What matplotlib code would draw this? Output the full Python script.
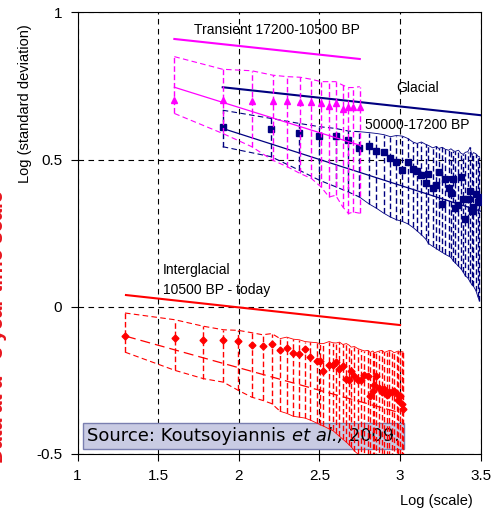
import numpy as np
import matplotlib
matplotlib.use("Agg")
import matplotlib.pyplot as plt
from matplotlib.offsetbox import TextArea, HPacker, AnnotationBbox

plt.rcParams['font.family'] = ['Liberation Sans', 'DejaVu Sans']

# Transient 17200-10500 BP (magenta)
mag_x = [1.60, 1.90, 2.08, 2.21, 2.30, 2.38, 2.45, 2.51, 2.56, 2.60, 2.645, 2.68, 2.71, 2.75]
mag_y = [0.702, 0.702, 0.700, 0.700, 0.699, 0.697, 0.695, 0.693, 0.682, 0.691, 0.671, 0.680, 0.678, 0.678]
mag_hi = [0.850, 0.807, 0.802, 0.787, 0.782, 0.780, 0.773, 0.765, 0.765, 0.765, 0.753, 0.745, 0.745, 0.748]
mag_lo = [0.657, 0.589, 0.544, 0.498, 0.476, 0.453, 0.436, 0.407, 0.373, 0.379, 0.339, 0.317, 0.322, 0.318]
mag_top_x, mag_top_y = [1.60, 2.75], [0.910, 0.842]
mag_mid_x, mag_mid_y = [1.60, 2.75], [0.746, 0.549]

# Glacial 50000-17200 BP (navy)
nav_x = [1.90, 2.20, 2.375, 2.50, 2.60, 2.68, 2.748, 2.806, 2.853, 2.899, 2.94, 2.977, 3.014,
         3.048, 3.079, 3.105, 3.132, 3.159, 3.176, 3.203, 3.225, 3.240, 3.261, 3.281, 3.302,
         3.315, 3.331, 3.341, 3.362, 3.377, 3.391, 3.405, 3.42, 3.434, 3.445, 3.455, 3.47,
         3.482, 3.492]
nav_y = [0.610, 0.603, 0.591, 0.580, 0.580, 0.566, 0.540, 0.546, 0.529, 0.526, 0.507, 0.492, 0.464,
         0.492, 0.467, 0.460, 0.447, 0.419, 0.450, 0.405, 0.414, 0.459, 0.349, 0.433, 0.405,
         0.385, 0.433, 0.335, 0.345, 0.440, 0.366, 0.297, 0.366, 0.394, 0.325, 0.340, 0.383,
         0.357, 0.374]
nav_hi = [0.668, 0.640, 0.623, 0.612, 0.606, 0.597, 0.595, 0.592, 0.589, 0.585, 0.578, 0.582, 0.580,
          0.572, 0.560, 0.555, 0.560, 0.552, 0.548, 0.540, 0.545, 0.538, 0.542, 0.535, 0.532,
          0.537, 0.530, 0.528, 0.532, 0.522, 0.518, 0.525, 0.527, 0.542, 0.515, 0.524, 0.520,
          0.512, 0.510]
nav_lo = [0.544, 0.510, 0.464, 0.430, 0.408, 0.390, 0.373, 0.350, 0.335, 0.318, 0.305, 0.296, 0.290,
          0.282, 0.270, 0.258, 0.245, 0.230, 0.215, 0.205, 0.198, 0.192, 0.185, 0.178, 0.172,
          0.168, 0.155, 0.150, 0.138, 0.130, 0.118, 0.105, 0.098, 0.085, 0.075, 0.070, 0.055,
          0.035, 0.020]
nav_top_x, nav_top_y = [1.90, 3.50], [0.746, 0.651]
nav_mid_x, nav_mid_y = [1.90, 3.50], [0.606, 0.325]

# Interglacial 10500 BP - today (red)
red_x = [1.294, 1.604, 1.78, 1.904, 1.997, 2.08, 2.148, 2.204, 2.256, 2.297, 2.338, 2.375, 2.41,
         2.444, 2.483, 2.504, 2.524, 2.56, 2.582, 2.603, 2.624, 2.645, 2.667, 2.686, 2.696,
         2.717, 2.738, 2.758, 2.779, 2.80, 2.814, 2.831, 2.84, 2.851, 2.872, 2.886, 2.903,
         2.917, 2.934, 2.948, 2.963, 2.98, 2.99, 3.0, 3.01, 3.02]
red_y = [-0.100, -0.106, -0.112, -0.112, -0.116, -0.131, -0.133, -0.128, -0.148, -0.139, -0.157,
         -0.159, -0.145, -0.171, -0.184, -0.184, -0.218, -0.196, -0.199, -0.188, -0.210, -0.201,
         -0.244, -0.248, -0.218, -0.236, -0.250, -0.250, -0.233, -0.235, -0.304, -0.287, -0.267,
         -0.235, -0.275, -0.290, -0.278, -0.301, -0.288, -0.290, -0.286, -0.295, -0.316, -0.304,
         -0.329, -0.346]
red_hi = [-0.021, -0.044, -0.066, -0.078, -0.080, -0.088, -0.095, -0.091, -0.108, -0.103, -0.110,
          -0.112, -0.118, -0.120, -0.122, -0.125, -0.125, -0.118, -0.122, -0.123, -0.120, -0.128,
          -0.125, -0.131, -0.137, -0.135, -0.142, -0.146, -0.150, -0.148, -0.155, -0.150, -0.156,
          -0.154, -0.150, -0.148, -0.155, -0.152, -0.148, -0.150, -0.156, -0.152, -0.150, -0.155,
          -0.152, -0.154]
red_lo = [-0.154, -0.216, -0.244, -0.256, -0.284, -0.307, -0.318, -0.329, -0.355, -0.362, -0.372,
          -0.375, -0.378, -0.385, -0.395, -0.400, -0.405, -0.415, -0.420, -0.430, -0.440, -0.450,
          -0.460, -0.470, -0.475, -0.490, -0.500, -0.520, -0.525, -0.530, -0.535, -0.540, -0.540,
          -0.545, -0.550, -0.555, -0.560, -0.565, -0.565, -0.570, -0.575, -0.580, -0.585, -0.590,
          -0.595, -0.600]
red_top_x, red_top_y = [1.30, 3.00], [0.040, -0.062]
red_mid_x, red_mid_y = [1.30, 3.00], [-0.100, -0.360]

xticks = [1, 1.5, 2, 2.5, 3, 3.5]
yticks = [-0.5, 0, 0.5, 1]

MAG, NAV, RED = '#ff00ff', '#000080', '#ff0000'

fig = plt.figure(figsize=(4.93, 5.16), dpi=100)
ax = fig.add_axes([0.1574, 0.1202, 0.8177, 0.8556])


def draw_series(x, y, lo, hi, top_x, top_y, mid_x, mid_y, color, marker, ms, cut, mid_ls, z):
    # theoretical line on top
    ax.plot(top_x, top_y, color=color, lw=1.5, zorder=z)
    ax.plot(mid_x, mid_y, color=color, lw=0.9, ls=mid_ls, zorder=z)
    # error bars
    ax.vlines(x, lo, hi, colors=color, linestyles=(0, (4, 2)), lw=1.0, zorder=z)
    # envelopes: dashed first, thin solid after the cut
    ax.plot(x[:cut + 1], hi[:cut + 1], color=color, lw=0.8, ls=(0, (5, 3)), zorder=z)
    ax.plot(x[:cut + 1], lo[:cut + 1], color=color, lw=0.8, ls=(0, (5, 3)), zorder=z)
    ax.plot(x[cut:], hi[cut:], color=color, lw=0.6, zorder=z)
    ax.plot(x[cut:], lo[cut:], color=color, lw=0.6, zorder=z)
    ax.plot(x, y, ls='none', marker=marker, ms=ms, color=color, zorder=z + 0.5)


draw_series(nav_x, nav_y, nav_lo, nav_hi, nav_top_x, nav_top_y, nav_mid_x, nav_mid_y,
            NAV, 's', 4.2, 6, '-', 3)
draw_series(mag_x, mag_y, mag_lo, mag_hi, mag_top_x, mag_top_y, mag_mid_x, mag_mid_y,
            MAG, '^', 5, len(mag_x) - 1, '-', 4)
draw_series(red_x, red_y, red_lo, red_hi, red_top_x, red_top_y, red_mid_x, red_mid_y,
            RED, 'D', 3.5, 8, (0, (8, 4)), 5)

ax.set_xlim(1, 3.5)
ax.set_ylim(-0.5, 1)
ax.set_xticks(xticks)
ax.set_xticklabels([f'{t:g}' for t in xticks])
ax.set_yticks(yticks)
ax.set_yticklabels([f'{t:g}' for t in yticks])
ax.tick_params(direction='out', length=5, labelsize=11, pad=6)
ax.grid(True, color='black', ls=(0, (5, 4)), lw=0.8)
ax.set_axisbelow(True)

# labels
ax.text(1.72, 0.94, 'Transient 17200-10500 BP', fontsize=10, va='center')
ax.text(2.975, 0.745, 'Glacial', fontsize=10, va='center')
ax.text(2.78, 0.617, '50000-17200 BP', fontsize=10, va='center')
ax.text(1.53, 0.124, 'Interglacial', fontsize=10, va='center')
ax.text(1.53, 0.056, '10500 BP - today', fontsize=10, va='center')

# source box, "et al.," in italics
src_font = dict(family='DejaVu Sans', size=13, color='black')
parts = [TextArea('Source: Koutsoyiannis ', textprops=src_font),
         TextArea('et al.,', textprops=dict(src_font, style='italic')),
         TextArea(' 2009.', textprops=src_font)]
src = HPacker(children=parts, align='baseline', pad=0, sep=0)
ab = AnnotationBbox(src, (1.06, -0.44), xycoords='data', box_alignment=(0, 0.5),
                    frameon=True, pad=0.15,
                    bboxprops=dict(boxstyle='square', fc='#c9cbe3', ec='#7a7fb0', lw=1))
ab.set_zorder(2)
ax.add_artist(ab)

fig.text(0.05, 0.80, 'Log (standard deviation)', rotation=90, fontsize=10.5,
         ha='center', va='center')
fig.text(0.885, 0.016, 'Log (scale)', fontsize=10.5, ha='center', va='bottom')

# clipped caption on the left edge
fig.text(7 / 493, 1 - 190 / 516, 'Data at a ~3 year time scale', rotation=90, fontsize=15,
         fontweight='bold', color='#e8141c', ha='right', va='top')

plt.savefig('out.png', dpi=100)
